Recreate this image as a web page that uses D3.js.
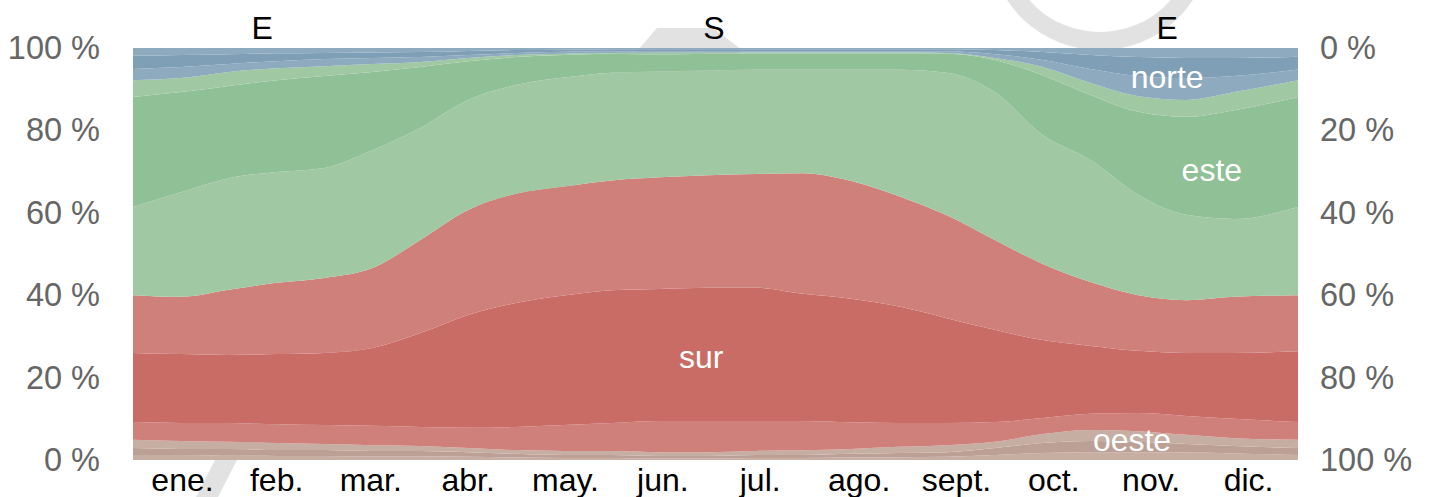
<!DOCTYPE html>
<html>
<head>
<meta charset="utf-8">
<script src="https://cdn.jsdelivr.net/npm/d3@7"></script>
<style>
  body { margin: 0; background: #fff; }
  text { font-family: "Liberation Sans", Arial, sans-serif; }
</style>
</head>
<body>
<div id="chart"></div>
<script>
// day of year for each sample
const days = [0, 15, 30, 45, 60, 75, 90, 105, 120, 135, 150, 165, 180, 195, 210, 225, 240, 255, 270, 285, 300, 315, 330, 345, 365];

// % of hours per band, bottom to top (tinted halves of NW, SW, SE, NE around the cardinals)
const nwWest  = [1.2, 1.2, 1.1, 1.0, 1.0, 0.9, 0.9, 0.8, 0.6, 0.5, 0.5, 0.4, 0.4, 0.5, 0.5, 0.6, 0.7, 0.8, 1.2, 1.7, 1.9, 1.9, 1.8, 1.6, 1.2];
const west    = [1.7, 1.5, 1.6, 1.4, 1.4, 1.3, 1.3, 1.1, 0.9, 0.7, 0.7, 0.6, 0.6, 0.7, 0.7, 0.9, 1.0, 1.1, 1.7, 2.4, 2.7, 2.5, 2.1, 1.8, 1.7];
const swWest  = [2.0, 1.9, 1.7, 1.7, 1.5, 1.4, 1.2, 1.0, 0.9, 1.0, 1.0, 0.9, 0.9, 1.0, 1.2, 1.2, 1.5, 1.7, 1.5, 2.2, 2.7, 2.6, 2.2, 1.9, 2.0];
const swSouth = [4.3, 4.4, 4.6, 4.6, 4.6, 4.7, 4.6, 4.9, 5.6, 6.3, 6.8, 7.6, 7.6, 7.3, 7.1, 6.5, 5.8, 5.4, 4.8, 3.9, 3.9, 4.4, 4.6, 4.7, 4.3];
const south   = [16.8, 16.7, 16.5, 17.0, 17.5, 18.9, 22.8, 27.4, 30.1, 31.5, 32.3, 32.2, 32.5, 32.5, 31.0, 30.1, 28.4, 25.5, 22.4, 18.9, 16.5, 15.1, 15.3, 16.0, 17.2];
const seSouth = [14.0, 13.9, 15.8, 17.3, 18.2, 19.4, 22.6, 25.5, 26.5, 26.5, 26.7, 27.2, 27.4, 27.7, 29.4, 28.7, 26.9, 25.0, 21.8, 18.5, 15.5, 13.5, 12.8, 13.6, 13.6];
const seEast  = [21.4, 25.4, 27.1, 26.9, 26.7, 28.6, 27.2, 26.7, 26.4, 26.5, 26.2, 25.8, 25.5, 25.4, 25.2, 27.1, 30.8, 34.7, 35.9, 31.3, 29.6, 24.3, 20.7, 18.9, 21.4];
const east    = [26.7, 24.3, 22.4, 22.3, 22.3, 19.0, 14.8, 9.4, 6.8, 5.5, 4.6, 4.1, 4.1, 3.9, 3.9, 3.9, 3.9, 4.6, 7.8, 14.5, 15.8, 20.2, 23.8, 26.4, 26.7];
const neEast  = [4.1, 3.4, 3.4, 2.9, 2.4, 1.9, 1.2, 0.8, 0.5, 0.3, 0.2, 0.5, 0.3, 0.3, 0.3, 0.3, 0.3, 0.2, 0.5, 2.0, 2.9, 3.8, 4.1, 4.4, 4.1];
const neNorth = [2.7, 2.7, 1.9, 1.7, 1.7, 1.5, 1.2, 0.7, 0.5, 0.5, 0.4, 0.3, 0.3, 0.3, 0.3, 0.3, 0.3, 0.4, 0.9, 1.7, 3.4, 4.9, 5.3, 3.9, 2.6];
const north   = [3.2, 2.9, 2.4, 1.9, 1.5, 1.3, 1.2, 1.0, 0.7, 0.5, 0.5, 0.5, 0.5, 0.5, 0.5, 0.5, 0.5, 0.5, 1.0, 1.9, 3.4, 4.6, 4.9, 4.4, 3.1];
const nwNorth = [1.9, 1.7, 1.5, 1.3, 1.2, 1.1, 1.0, 0.7, 0.5, 0.4, 0.3, 0.3, 0.3, 0.3, 0.3, 0.3, 0.3, 0.3, 0.5, 1.0, 1.7, 2.2, 2.4, 2.4, 2.1];

const months = ["ene.", "feb.", "mar.", "abr.", "may.", "jun.", "jul.", "ago.", "sept.", "oct.", "nov.", "dic."];
const monthStarts = [0, 31, 59, 90, 120, 151, 181, 212, 243, 273, 304, 334, 365];
const yTicks = [0, 0.2, 0.4, 0.6, 0.8, 1];

// dominant direction periods (top labels)
const periods = [
  { dir: "E", start: 0, end: 81 },
  { dir: "S", start: 81, end: 283 },
  { dir: "E", start: 283, end: 365 }
];

// area labels: [text, day, share]
const areaLabels = [
  ["norte", 324, 0.93],
  ["este", 338, 0.705],
  ["sur", 178, 0.25],
  ["oeste", 313, 0.05]
];

const bands = [
  { key: "nwWest", values: nwWest, color: "#c6aea3" },
  { key: "west", values: west, color: "#bca096" },
  { key: "swWest", values: swWest, color: "#c6aea3" },
  { key: "swSouth", values: swSouth, color: "#d0807b" },
  { key: "south", values: south, color: "#c96c66" },
  { key: "seSouth", values: seSouth, color: "#d0807b" },
  { key: "seEast", values: seEast, color: "#9fc8a3" },
  { key: "east", values: east, color: "#90c096" },
  { key: "neEast", values: neEast, color: "#9fc8a3" },
  { key: "neNorth", values: neNorth, color: "#8eaabf" },
  { key: "north", values: north, color: "#7e9fb6" },
  { key: "nwNorth", values: nwNorth, color: "#8eaabf" }
];

const width = 1432, height = 497;
const margin = { top: 48, right: 134, bottom: 37, left: 133 };

// build rows for d3.stack
const rows = days.map((d, i) => {
  const r = { day: d };
  bands.forEach(b => { r[b.key] = b.values[i]; });
  return r;
});

const stack = d3.stack()
    .keys(bands.map(b => b.key))
    .offset(d3.stackOffsetExpand);
const series = stack(rows);

const svg = d3.select("#chart").append("svg")
    .attr("width", width)
    .attr("height", height);

// faint watermark shapes behind the plot
const wm = svg.append("g").attr("fill", "#e2e2e2");
wm.append("path")
    .attr("d", "M657,28 L713,28 L742,50 L238,458 L218,497 L196,497 L216,458 L638,50 Z");
wm.append("ellipse")
    .attr("cx", 1100).attr("cy", -55)
    .attr("rx", 100).attr("ry", 96)
    .attr("fill", "none")
    .attr("stroke", "#e2e2e2")
    .attr("stroke-width", 18);

const x = d3.scaleLinear()
    .domain([0, 365])
    .range([margin.left, width - margin.right]);

const y = d3.scaleLinear()
    .domain([0, 1])
    .range([height - margin.bottom, margin.top]);

// reversed scale for the right axis
const yRight = d3.scaleLinear()
    .domain([1, 0])
    .range([height - margin.bottom, margin.top]);

const area = d3.area()
    .x(d => x(d.data.day))
    .y0(d => y(d[0]))
    .y1(d => y(d[1]))
    .curve(d3.curveMonotoneX);

svg.append("g")
  .selectAll("path")
  .data(series)
  .join("path")
    .attr("fill", (d, i) => bands[i].color)
    .attr("d", area);

const fmt = v => Math.round(v * 100) + " %";

// left axis
const leftAxis = svg.append("g")
    .attr("transform", "translate(" + (margin.left - 33) + ",0)")
    .call(d3.axisLeft(y).tickValues(yTicks).tickFormat(fmt).tickSize(0).tickPadding(0));
leftAxis.select(".domain").remove();
leftAxis.selectAll("text")
    .attr("font-size", "32.5px")
    .attr("fill", "#666")
    .attr("font-family", "Liberation Sans, Arial, sans-serif");

// right axis
const rightAxis = svg.append("g")
    .attr("transform", "translate(" + (width - margin.right + 22) + ",0)")
    .call(d3.axisRight(yRight).tickValues(yTicks).tickFormat(fmt).tickSize(0).tickPadding(0));
rightAxis.select(".domain").remove();
rightAxis.selectAll("text")
    .attr("font-size", "32.5px")
    .attr("fill", "#666")
    .attr("font-family", "Liberation Sans, Arial, sans-serif");

// month labels
svg.append("g")
  .selectAll("text")
  .data(months)
  .join("text")
    .attr("x", (m, i) => x((monthStarts[i] + monthStarts[i + 1]) / 2))
    .attr("y", height - 6)
    .attr("text-anchor", "middle")
    .attr("font-size", "32px")
    .attr("fill", "#000")
    .text(m => m);

// dominant direction labels
svg.append("g")
  .selectAll("text")
  .data(periods)
  .join("text")
    .attr("x", d => x((d.start + d.end) / 2))
    .attr("y", margin.top - 9)
    .attr("text-anchor", "middle")
    .attr("font-size", "32px")
    .attr("fill", "#000")
    .text(d => d.dir);

// labels inside areas
svg.append("g")
  .selectAll("text")
  .data(areaLabels)
  .join("text")
    .attr("x", d => x(d[1]))
    .attr("y", d => y(d[2]))
    .attr("dy", "0.35em")
    .attr("text-anchor", "middle")
    .attr("font-size", "32px")
    .attr("fill", "#fff")
    .text(d => d[0]);
</script>
</body>
</html>
